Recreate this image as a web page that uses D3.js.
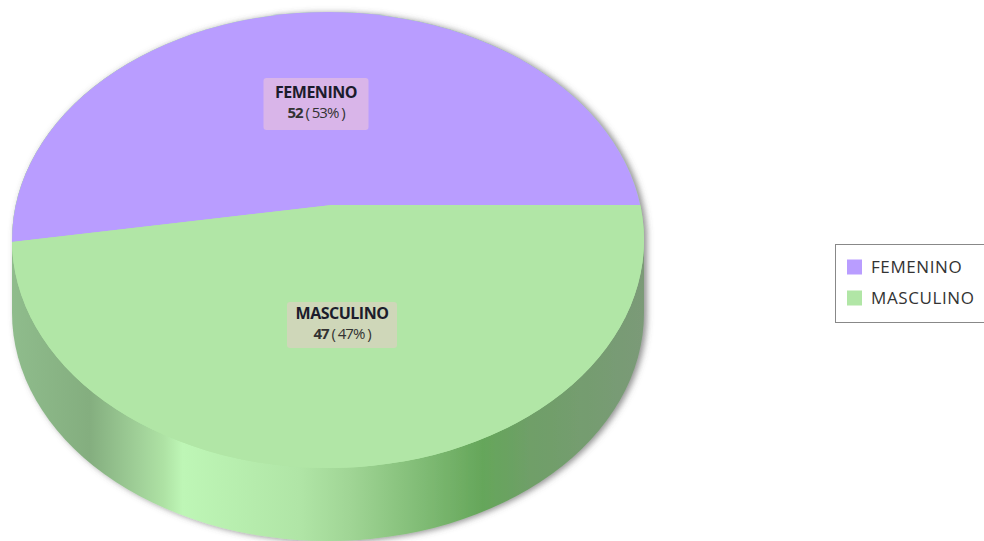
<!DOCTYPE html>
<html><head><meta charset="utf-8">
<script src="https://cdn.jsdelivr.net/npm/d3@7"></script>
<style>html,body{margin:0;padding:0;background:#fff}svg{display:block}</style>
</head><body><svg id="c" width="984" height="541"></svg>
<script>
const categories = ["FEMENINO", "MASCULINO"];
const values = [52, 47];
const percents = [53, 47];
const colors = ["#b99dff", "#b1e6a6"];
const labelFills = ["#d9b5e9", "#cfd7b9"];
const wallOffsets = [0, 0.123, 0.2, 0.24, 0.27, 0.455, 0.535, 0.745, 0.82, 1];
const wallColors = ["#8fbc8c", "#84ae7f", "#a0d098", "#aee2a4", "#bef6b6", "#b0e5a6", "#a0d595", "#65a65a", "#6f9f68", "#7b9a78"];

const svg = d3.select("#c");
const cx = 328, cyE = 240, rx = 316, ry = 228, depth = 73, apexX = 332, apexY = 205;
const defs = svg.append("defs");
const grad = defs.append("linearGradient").attr("id","wall").attr("x1","0").attr("x2","1").attr("y1","0").attr("y2","0");
wallOffsets.forEach((o,i) => grad.append("stop").attr("offset", o).attr("stop-color", wallColors[i]));
const f = defs.append("filter").attr("id","sh").attr("x","-5%").attr("y","-5%").attr("width","110%").attr("height","110%");
f.append("feDropShadow").attr("dx",3).attr("dy",1).attr("stdDeviation",3).attr("flood-color","#555").attr("flood-opacity",0.65);
defs.append("clipPath").attr("id","topClip").append("ellipse").attr("cx",cx).attr("cy",cyE).attr("rx",rx).attr("ry",ry);

// side wall (extruded ellipse)
const body = svg.append("g").attr("filter","url(#sh)");
body.append("path").attr("fill","url(#wall)")
  .attr("d", `M${cx-rx},${cyE} L${cx-rx},${cyE+depth} A${rx},${ry} 0 0 0 ${cx+rx},${cyE+depth} L${cx+rx},${cyE} A${rx},${ry} 0 0 0 ${cx-rx},${cyE} Z`);
body.append("ellipse").attr("cx",cx).attr("cy",cyE).attr("rx",rx).attr("ry",ry).attr("fill",colors[1]);

// top face: slices from d3.pie, squashed and clipped by the ellipse
const pie = d3.pie().sort(null).startAngle(Math.PI/2).endAngle(Math.PI/2 - 2*Math.PI);
const arcs = pie(values);
const arc = d3.arc().innerRadius(0).outerRadius(900);
const topFace = svg.append("g").attr("clip-path","url(#topClip)")
  .append("g").attr("transform",`translate(${apexX},${apexY}) scale(1,${ry/rx})`);
topFace.selectAll("path").data(arcs).join("path").attr("d",arc).attr("fill",(d,i)=>colors[i]);

// data labels
const lab = [{x:316,y:78,w:105,h:52,l1:98,l2:118},{x:342,y:302,w:110,h:46,l1:319,l2:339}];
const font = "'Open Sans','Noto Sans',sans-serif";
lab.forEach((p,i)=>{
  svg.append("rect").attr("x",p.x-p.w/2).attr("y",p.y).attr("width",p.w).attr("height",p.h).attr("rx",3).attr("fill",labelFills[i]);
  svg.append("text").attr("x",p.x).attr("y",p.l1).attr("text-anchor","middle").attr("font-family",font).attr("font-size",16).attr("font-weight",700).attr("letter-spacing",-0.5).attr("fill","#1c1c2c").text(categories[i]);
  const t = svg.append("text").attr("x",p.x).attr("y",p.l2).attr("text-anchor","middle").attr("font-family",font).attr("font-size",15).attr("letter-spacing",-1).attr("fill","#333");
  t.append("tspan").attr("font-weight",700).text(values[i]);
  t.append("tspan").text(` ( ${percents[i]}% )`);
});

// legend
svg.append("rect").attr("x",835.5).attr("y",244.5).attr("width",160).attr("height",78).attr("fill","#fff").attr("stroke","#888");
const ly = d3.scalePoint().domain(categories).range([267,298]);
categories.forEach((c,i)=>{
  svg.append("rect").attr("x",847).attr("y",ly(c)-7.5).attr("width",15).attr("height",15).attr("fill",colors[i]);
  svg.append("text").attr("x",871).attr("y",ly(c)+6).attr("font-family",font).attr("font-size",17).attr("letter-spacing",0.6).attr("fill","#333").text(c);
});
</script></body></html>
